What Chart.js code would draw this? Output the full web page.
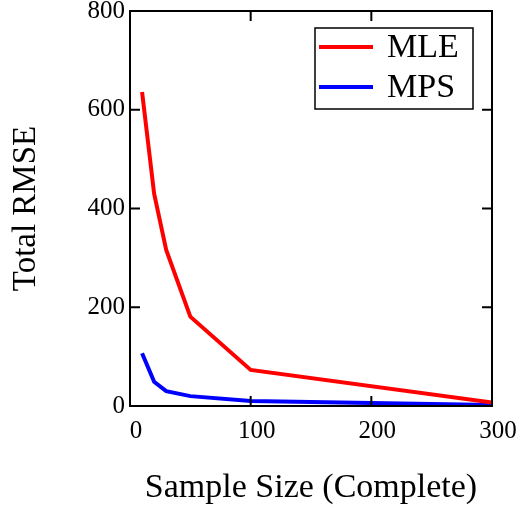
<!DOCTYPE html>
<html>
<head>
<meta charset="utf-8">
<script src="https://cdn.jsdelivr.net/npm/chart.js@4/dist/chart.umd.min.js"></script>
<style>
  html, body { margin: 0; padding: 0; background: #fff; }
  #wrap { width: 520px; height: 510px; }
</style>
</head>
<body>
<div id="wrap"><canvas id="c"></canvas></div>
<script>
// data
const sampleSizes = [10, 20, 30, 50, 100, 300];
const mleRmse     = [636, 430, 316, 181, 73, 7];
const mpsRmse     = [107, 49, 30, 20, 10, 2];
const xTicks      = [0, 100, 200, 300];
const yTicks      = [0, 200, 400, 600, 800];

const SERIF = "'Liberation Serif', 'DejaVu Serif', serif";

const toPoints = ys => sampleSizes.map((x, i) => ({ x, y: ys[i] }));

/** frame + inward tick marks on all four sides */
const framePlugin = {
  id: "frame",
  afterDatasetsDraw(chart) {
    const { ctx, chartArea: a, scales } = chart;
    const len = 10;
    ctx.save();
    ctx.strokeStyle = "#000";
    ctx.lineWidth = 2;
    ctx.strokeRect(a.left, a.top, a.right - a.left, a.bottom - a.top);
    ctx.beginPath();
    xTicks.forEach(v => {
      const px = scales.x.getPixelForValue(v);
      ctx.moveTo(px, a.bottom); ctx.lineTo(px, a.bottom - len);
      ctx.moveTo(px, a.top);    ctx.lineTo(px, a.top + len);
    });
    yTicks.forEach(v => {
      const py = scales.y.getPixelForValue(v);
      ctx.moveTo(a.left, py);  ctx.lineTo(a.left + len, py);
      ctx.moveTo(a.right, py); ctx.lineTo(a.right - len, py);
    });
    ctx.stroke();
    ctx.restore();
  }
};

/** boxed legend in the top-right corner of the plot */
const legendBox = {
  id: "legendBox",
  afterDraw(chart) {
    const { ctx, chartArea: a } = chart;
    const w = 158, h = 81;
    const x0 = a.right - 19 - w, y0 = a.top + 17;
    ctx.save();
    ctx.fillStyle = "#fff";
    ctx.fillRect(x0, y0, w, h);
    ctx.strokeStyle = "#000";
    ctx.lineWidth = 1.5;
    ctx.strokeRect(x0, y0, w, h);
    ctx.font = "34px " + SERIF;
    ctx.textBaseline = "middle";
    chart.data.datasets.forEach((ds, i) => {
      const y = y0 + 19 + i * 40;
      ctx.strokeStyle = ds.borderColor;
      ctx.lineWidth = 4;
      ctx.beginPath();
      ctx.moveTo(x0 + 4, y); ctx.lineTo(x0 + 58, y);
      ctx.stroke();
      ctx.fillStyle = "#000";
      ctx.fillText(ds.label, x0 + 72, y + 1);
    });
    ctx.restore();
  }
};

new Chart(document.getElementById("c"), {
  type: "line",
  data: {
    datasets: [
      { label: "MLE", data: toPoints(mleRmse), borderColor: "#ff0000", borderWidth: 4, pointRadius: 0, tension: 0, fill: false },
      { label: "MPS", data: toPoints(mpsRmse), borderColor: "#0000ff", borderWidth: 4, pointRadius: 0, tension: 0, fill: false },
    ],
  },
  options: {
    responsive: true,
    maintainAspectRatio: false,
    animation: false,
    layout: { padding: { top: 11, right: 28, left: 0, bottom: 0 } },
    plugins: { legend: { display: false }, tooltip: { enabled: false } },
    scales: {
      x: {
        type: "linear",
        min: 0, max: 300,
        afterBuildTicks: s => { s.ticks = xTicks.map(v => ({ value: v })); },
        afterFit: s => { s.height = 104; s.paddingLeft = 0; s.paddingRight = 0; },
        grid: { display: false, drawTicks: false },
        border: { display: false },
        ticks: { color: "#000", font: { family: SERIF, size: 25 }, padding: 10, labelOffset: 6, maxRotation: 0 },
        title: { display: true, text: "Sample Size (Complete)", color: "#000", font: { family: SERIF, size: 34 }, padding: { top: 0, bottom: 2 } },
      },
      y: {
        min: 0, max: 800,
        afterBuildTicks: s => { s.ticks = yTicks.map(v => ({ value: v })); },
        afterFit: s => { s.width = 130; s.paddingTop = 0; s.paddingBottom = 0; },
        grid: { display: false, drawTicks: false },
        border: { display: false },
        ticks: { color: "#000", font: { family: SERIF, size: 25 }, padding: 5 },
        title: { display: true, text: "Total RMSE", color: "#000", font: { family: SERIF, size: 33 }, padding: { top: 7, bottom: 0 } },
      },
    },
  },
  plugins: [framePlugin, legendBox],
});
</script>
</body>
</html>
